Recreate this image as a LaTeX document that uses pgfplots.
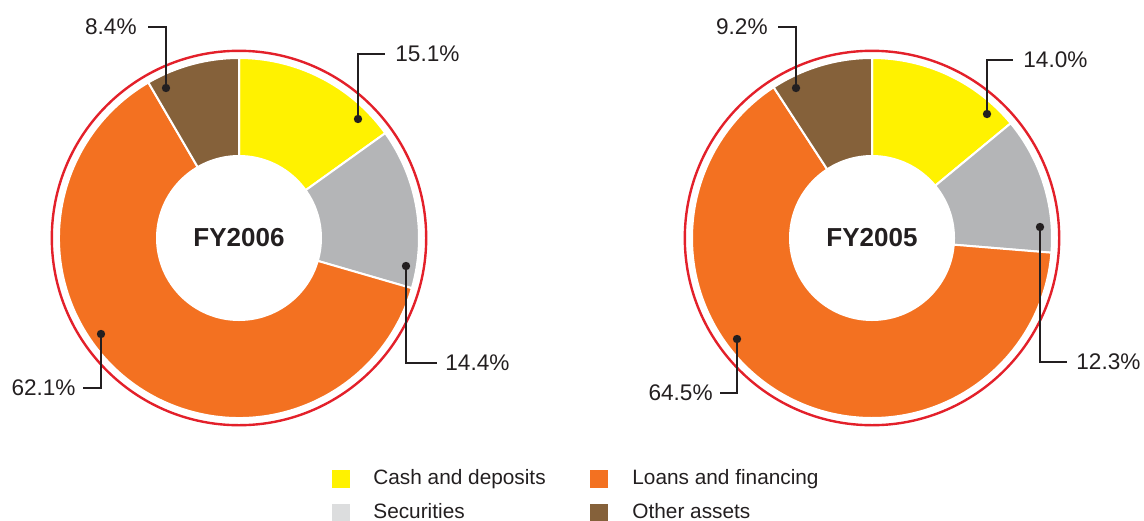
\documentclass[border=0pt]{standalone}
\usepackage{fontspec}
\setmainfont{Liberation Sans}
\usepackage{pgfplots}
\usepackage{pgfplotstable}
\pgfplotsset{compat=1.18}

\definecolor{cashc}{HTML}{FFF200}
\definecolor{secc}{HTML}{B4B5B7}
\definecolor{secleg}{HTML}{DCDDDE}
\definecolor{loanc}{HTML}{F37121}
\definecolor{otherc}{HTML}{85613A}
\definecolor{ringc}{HTML}{E3202A}
\definecolor{ink}{HTML}{231F20}

% shares in %, clockwise from 12 o'clock
\pgfplotstableread{
cat share
Cash 15.1
Securities 14.4
Loans 62.1
Other 8.4
}\fysix
\pgfplotstableread{
cat share
Cash 14.0
Securities 12.3
Loans 64.5
Other 9.2
}\fyfive

\newcommand\pctfont{\fontsize{11.3}{13}\selectfont}
\newcommand\legfont{\fontsize{10.4}{12}\selectfont}

% #1 cx, #2 cy (image px), #3 table
\newcommand\donut[3]{%
  \def\cum{0}%
  \pgfplotsforeachungrouped \i in {0,1,2,3}{%
    \pgfplotstablegetelem{\i}{share}\of{#3}%
    \let\sv\pgfplotsretval
    \pgfmathsetmacro\aS{90-3.6*\cum}%
    \pgfmathsetmacro\aE{90-3.6*(\cum+\sv)}%
    \pgfmathsetmacro\cum{\cum+\sv}%
    \edef\col{\ifcase\i cashc\or secc\or loanc\or otherc\fi}%
    \edef\cmd{\noexpand\fill[\col, draw=white, line width=1pt]
      (axis cs:#1,#2) -- ++(\aS:90pt) arc[start angle=\aS, end angle=\aE, radius=90pt] -- cycle;}%
    \cmd
  }%
  \fill[white] (axis cs:#1,#2) circle[radius=41.5pt];
  \draw[ringc, line width=1.2pt] (axis cs:#1,#2) circle[radius=93.6pt];
}

% table, row, dot x, dot y, bend y, line end x, anchor, text x
\newcommand\leader[8]{%
  \pgfplotstablegetelem{#2}{share}\of{#1}%
  \edef\cmd{%
    \noexpand\draw[ink, line width=0.7pt] (axis cs:#3,#4) |- (axis cs:#6,#5);
    \noexpand\fill[ink] (axis cs:#3,#4) circle[radius=2.1pt];
    \noexpand\node[anchor=#7, inner sep=0pt, font=\noexpand\pctfont, text=ink]
      at (axis cs:#8,#5) {\pgfplotsretval\noexpand\%};}%
  \cmd}

\begin{document}
\begin{tikzpicture}
\useasboundingbox (0,0) rectangle (572pt,260pt);
\begin{axis}[
    width=572pt, height=260pt, scale only axis,
    xmin=0, xmax=1144, ymin=0, ymax=520, y dir=reverse,
    hide axis, clip=false]

\donut{239}{238}{\fysix}
\donut{872}{238}{\fyfive}

\leader{\fysix}{0}{358}{119}{54}{385}{west}{395}
\leader{\fysix}{1}{406}{266}{363}{437}{west}{445}
\leader{\fysix}{2}{101}{334}{388}{83}{east}{76}
\leader{\fysix}{3}{166}{88}{27}{148}{east}{137}

\leader{\fyfive}{0}{987}{114}{60}{1013}{west}{1023}
\leader{\fyfive}{1}{1040}{227}{362}{1067}{west}{1076}
\leader{\fyfive}{2}{737}{339}{393}{720}{east}{713}
\leader{\fyfive}{3}{796}{88}{27}{778}{east}{768}

\node[font=\fontsize{13}{15}\selectfont\bfseries, text=ink] at (axis cs:239,238) {FY2006};
\node[font=\fontsize{13}{15}\selectfont\bfseries, text=ink] at (axis cs:872,238) {FY2005};

% legend
\fill[cashc] (axis cs:332,470) rectangle (axis cs:350,488);
\fill[loanc] (axis cs:590,470) rectangle (axis cs:608,488);
\fill[secleg] (axis cs:332,504) rectangle (axis cs:350,522);
\fill[otherc] (axis cs:590,504) rectangle (axis cs:608,522);
\node[anchor=west, inner sep=0pt, font=\legfont, text=ink] at (axis cs:373,479) {Cash and deposits};
\node[anchor=west, inner sep=0pt, font=\legfont, text=ink] at (axis cs:632,479) {Loans and financing};
\node[anchor=west, inner sep=0pt, font=\legfont, text=ink] at (axis cs:373,511) {Securities};
\node[anchor=west, inner sep=0pt, font=\legfont, text=ink] at (axis cs:632,511) {Other assets};
\end{axis}
\end{tikzpicture}
\end{document}
